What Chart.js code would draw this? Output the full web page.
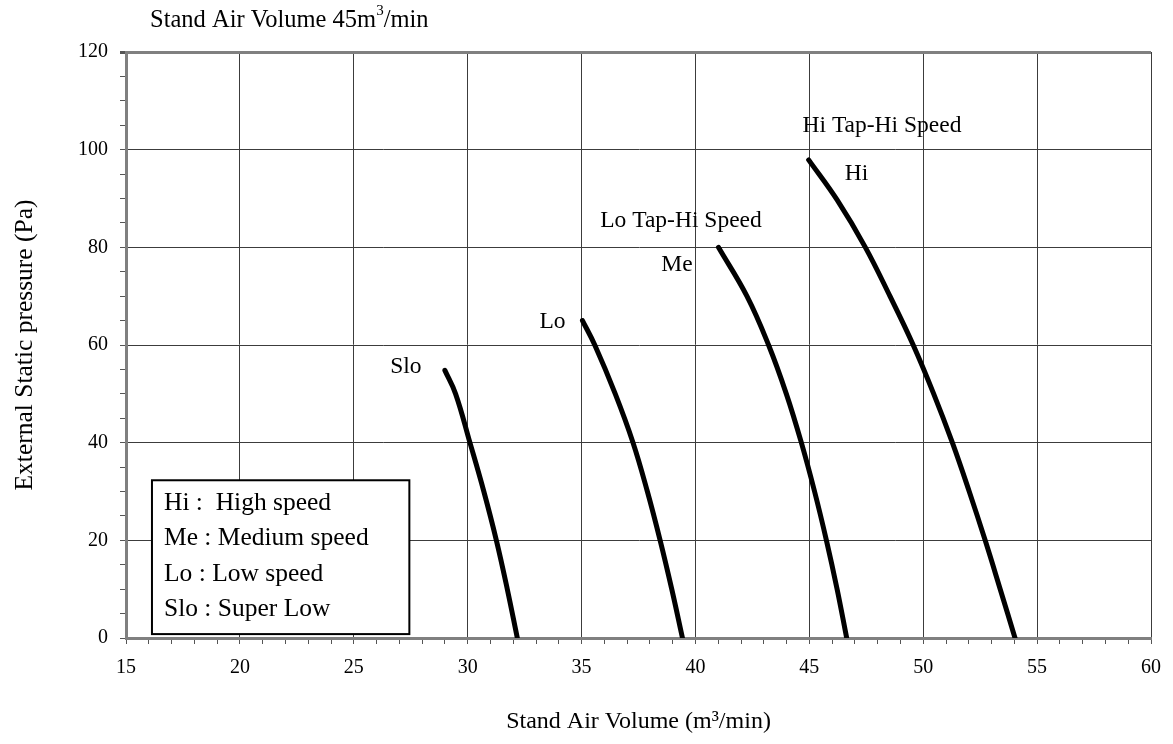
<!DOCTYPE html>
<html>
<head>
<meta charset="utf-8">
<script src="https://cdn.jsdelivr.net/npm/chart.js@4.4.1/dist/chart.umd.min.js"></script>
<style>
html,body{margin:0;padding:0;background:#fff;}
#wrap{width:1173px;height:744px;position:relative;}
</style>
</head>
<body>
<div id="wrap"><canvas id="c" width="1173" height="744"></canvas></div>
<script>
// ---- data ----
const hiX  = [44.97, 46.22, 47.46, 48.54, 49.56, 50.46, 51.28, 52.02, 52.72, 53.38, 54.03];
const hiY  = [97.9, 89.7, 80, 70, 60, 50, 40, 30, 20, 10, 0];
const meX  = [41.01, 42.26, 43.21, 43.99, 44.65, 45.23, 45.75, 46.22, 46.64];
const meY  = [80, 70, 60, 50, 40, 30, 20, 10, 0];
const loX  = [35.04, 35.58, 36.48, 37.26, 37.89, 38.45, 38.96, 39.43];
const loY  = [65, 60, 50, 40, 30, 20, 10, 0];
const sloX = [29.0, 29.47, 30.10, 30.71, 31.26, 31.74, 32.18];
const sloY = [54.8, 50, 40, 30, 20, 10, 0];

const seriesNames = ['Hi', 'Me', 'Lo', 'Slo'];
const curveLabels = ['Hi Tap-Hi Speed', 'Hi', 'Lo Tap-Hi Speed', 'Me', 'Lo', 'Slo'];
const legendLines = ['Hi :  High speed', 'Me : Medium speed', 'Lo : Low speed', 'Slo : Super Low'];
const chartTitle = 'Stand Air Volume 45m';
const xTitle = 'Stand Air Volume (m\u00B3/min)';
const yTitle = 'External Static pressure (Pa)';
const xMin = 15, xMax = 60, xMajor = 5;
const yMin = 0, yMax = 120, yMajor = 20, yMinor = 5;

const FONT = '"Liberation Serif", "Times New Roman", serif';

function pts(xs, ys){ return xs.map((x,i)=>({x:x, y:ys[i]})); }
const seriesData = [pts(hiX,hiY), pts(meX,meY), pts(loX,loY), pts(sloX,sloY)];

// anchors for curve annotations (data coords, left/middle)
const labelAnchors = [
  {x:44.7,  y:104.8},
  {x:46.56, y:95.0},
  {x:35.82, y:85.4},
  {x:38.5,  y:76.4},
  {x:33.15, y:64.7},
  {x:26.6,  y:55.5}
];

const overlay = {
  id:'overlay',
  afterDatasetsDraw(chart){
    const ctx = chart.ctx;
    const xs = chart.scales.x, ys = chart.scales.y;
    ctx.save();
    ctx.fillStyle = '#000';
    ctx.textBaseline = 'middle';
    ctx.textAlign = 'left';
    ctx.font = '23.5px ' + FONT;
    curveLabels.forEach((t,i)=>{
      ctx.fillText(t, xs.getPixelForValue(labelAnchors[i].x), ys.getPixelForValue(labelAnchors[i].y));
    });
    // legend box
    const bx = xs.getPixelForValue(16.14), by = ys.getPixelForValue(32.3);
    const bx2 = xs.getPixelForValue(27.44), by2 = ys.getPixelForValue(0.8);
    ctx.fillStyle = '#fff';
    ctx.fillRect(bx, by, bx2-bx, by2-by);
    ctx.strokeStyle = '#000';
    ctx.lineWidth = 2;
    ctx.strokeRect(bx, by, bx2-bx, by2-by);
    ctx.fillStyle = '#000';
    ctx.font = '25.5px ' + FONT;
    legendLines.forEach((t,i)=>{
      ctx.fillText(t, bx + 12, by + 23 + i*35.3);
    });
    // top title with superscript
    ctx.font = '24.5px ' + FONT;
    ctx.fillText(chartTitle, 150, 21);
    let w = ctx.measureText(chartTitle).width;
    ctx.font = '15px ' + FONT;
    ctx.fillText('3', 150 + w, 11);
    let w2 = ctx.measureText('3').width;
    ctx.font = '24.5px ' + FONT;
    ctx.fillText('/min', 150 + w + w2, 21);
    ctx.restore();
  }
};

const gridCol = '#3c3c3c';
const axisCol = '#808080';

new Chart(document.getElementById('c'), {
  type: 'scatter',
  data: {
    datasets: seriesNames.map((n,i)=>({
      label: n,
      data: seriesData[i],
      showLine: true,
      borderColor: '#000',
      backgroundColor: '#000',
      borderWidth: 5,
      pointRadius: 0,
      borderCapStyle: 'round',
      borderJoinStyle: 'round',
      tension: 0.4
    }))
  },
  options: {
    responsive: false,
    animation: false,
    layout: { padding: { left: 0, right: 19, top: 52, bottom: 0 } },
    plugins: { legend: { display: false }, tooltip: { enabled: false }, title: { display: false } },
    scales: {
      x: {
        type: 'linear', min: xMin, max: xMax,
        afterFit(s){ s.height = 106; },
        ticks: {
          stepSize: 1, autoSkip: false, maxRotation: 0, padding: 12,
          color: '#000', font: { family: FONT, size: 20 },
          callback: v => (v % xMajor === 0 ? String(v) : '')
        },
        grid: {
          color: c => (c.tick && c.tick.value % xMajor === 0 ? gridCol : 'rgba(0,0,0,0)'),
          tickColor: '#555', tickLength: 6, lineWidth: 1
        },
        border: { color: axisCol, width: 3 },
        title: { display: true, text: xTitle, color: '#000', font: { family: FONT, size: 24 }, padding: { top: 0, bottom: 8 } }
      },
      y: {
        type: 'linear', min: yMin, max: yMax,
        afterFit(s){ s.width = 126; },
        ticks: {
          stepSize: yMinor, autoSkip: false, padding: 12,
          color: '#000', font: { family: FONT, size: 20 },
          callback: v => (v % yMajor === 0 ? String(v) : '')
        },
        grid: {
          color: c => {
            if (!c.tick) return gridCol;
            if (c.tick.value === yMax) return axisCol;
            return c.tick.value % yMajor === 0 ? gridCol : 'rgba(0,0,0,0)';
          },
          lineWidth: c => (c.tick && c.tick.value === yMax ? 3 : 1),
          tickColor: '#555', tickLength: 6
        },
        border: { color: axisCol, width: 3 },
        title: { display: true, text: yTitle, color: '#000', font: { family: FONT, size: 25.5 }, padding: { top: 10, bottom: 0 } }
      }
    }
  },
  plugins: [overlay]
});
</script>
</body>
</html>
